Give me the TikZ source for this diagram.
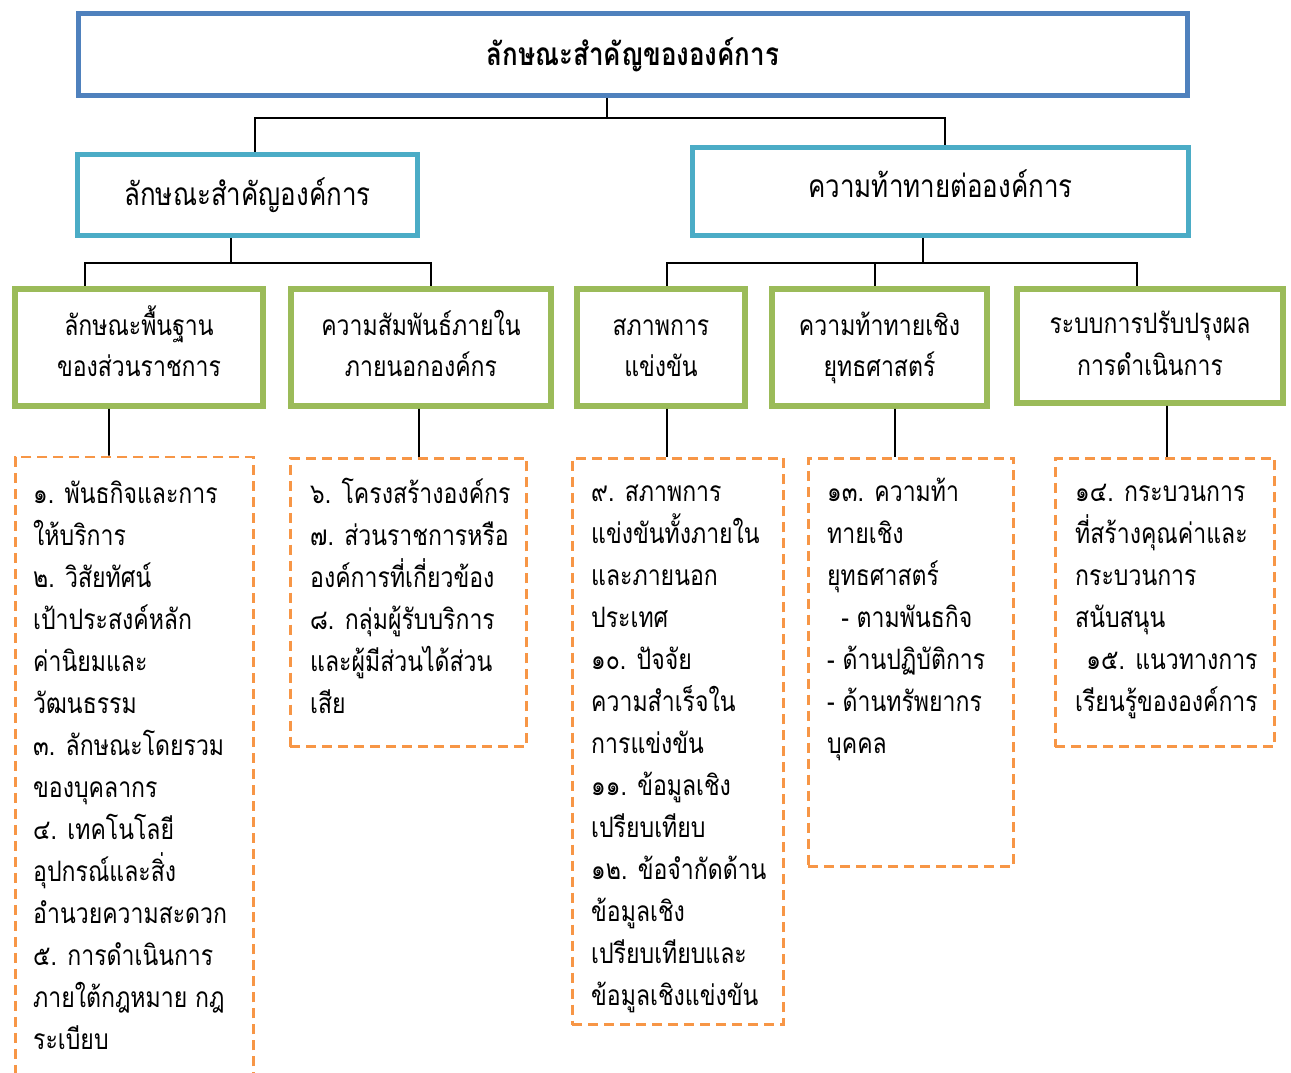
\documentclass[tikz,border=0pt]{standalone}
\usepackage{fontspec}
\newfontfamily\thai[Script=Thai,FakeStretch=0.82]{Loma}
\usetikzlibrary{positioning,calc}
\definecolor{topblue}{HTML}{4F81BD}
\definecolor{secblue}{HTML}{4BACC6}
\definecolor{grpgreen}{HTML}{9BBB59}
\definecolor{listorange}{HTML}{F79646}

\begin{document}
\begin{tikzpicture}[x=0.02cm,y=-0.02cm,
  topbox/.style={draw=topblue,line width=2.8pt,minimum width=22.2cm,minimum height=1.64cm,
    font=\thai\bfseries\fontsize{18}{21}\selectfont},
  secbox/.style={draw=secblue,line width=2.8pt,font=\thai\fontsize{18}{22}\selectfont},
  grpbox/.style={draw=grpgreen,line width=3.2pt,
    font=\thai\fontsize{16}{23.6}\selectfont},
  listbox/.style={draw=listorange,line width=1.6pt,dash pattern=on 0.2cm off 0.12cm},
  listtext/.style={anchor=north west,inner sep=0pt,align=left,
    font=\thai\fontsize{16}{23.9}\selectfont},
  link/.style={line width=0.9pt}]
  \useasboundingbox (0,0) rectangle (1291,1072);

  % top and second level
  \node[topbox] (top) at (633,54.5) {ลักษณะสำคัญขององค์การ};
  \node[secbox,minimum width=6.8cm,minimum height=1.62cm] (feat) at (247.5,195) {ลักษณะสำคัญองค์การ};
  \node[secbox,minimum width=9.92cm,minimum height=1.76cm] (chal) at (940.5,191.5)
    {\begin{tabular}{@{}c@{}}ความท้าทายต่อองค์การ\\[0.1cm]\end{tabular}};

  % third level
  \node[grpbox,minimum width=4.96cm,minimum height=2.34cm] (basic) at (139,347.5)
    {\begin{tabular}{@{}c@{}}ลักษณะพื้นฐาน\\ของส่วนราชการ\end{tabular}};
  \node[grpbox,minimum width=5.2cm,minimum height=2.34cm] (rel) at (421,347.5)
    {\begin{tabular}{@{}c@{}}ความสัมพันธ์ภายใน\\ภายนอกองค์กร\end{tabular}};
  \node[grpbox,minimum width=3.36cm,minimum height=2.34cm] (comp) at (661,347.5)
    {\begin{tabular}{@{}c@{}}สภาพการ\\แข่งขัน\end{tabular}};
  \node[grpbox,minimum width=4.3cm,minimum height=2.34cm] (strat) at (879.5,347.5)
    {\begin{tabular}{@{}c@{}}ความท้าทายเชิง\\ยุทธศาสตร์\end{tabular}};
  \node[grpbox,minimum width=5.32cm,minimum height=2.28cm] (impr) at (1150,346)
    {\begin{tabular}{@{}c@{}}ระบบการปรับปรุงผล\\การดำเนินการ\end{tabular}};

  % dashed lists
  \node[listbox,minimum width=4.77cm,minimum height=12.86cm] (d1) at (134.5,778.5) {};
  \node[listbox,minimum width=4.73cm,minimum height=5.77cm] (d2) at (408.5,602.5) {};
  \node[listbox,minimum width=4.23cm,minimum height=11.33cm] (d3) at (678,741.5) {};
  \node[listbox,minimum width=4.11cm,minimum height=8.17cm] (d4) at (911,662.5) {};
  \node[listbox,minimum width=4.39cm,minimum height=5.77cm] (d5) at (1165,602.5) {};

  \node[listtext] (t1) at ($(d1.north west)+(19,25)$) {%
    ๑. พันธกิจและการ\\ให้บริการ\\๒. วิสัยทัศน์\\เป้าประสงค์หลัก\\ค่านิยมและ\\วัฒนธรรม\\%
    ๓. ลักษณะโดยรวม\\ของบุคลากร\\๔. เทคโนโลยี\\อุปกรณ์และสิ่ง\\อำนวยความสะดวก\\%
    ๕. การดำเนินการ\\ภายใต้กฎหมาย กฎ\\ระเบียบ};
  \node[listtext] (t2) at ($(d2.north west)+(21,21)$) {%
    ๖. โครงสร้างองค์กร\\๗. ส่วนราชการหรือ\\องค์การที่เกี่ยวข้อง\\๘. กลุ่มผู้รับบริการ\\%
    และผู้มีส่วนได้ส่วน\\เสีย};
  \node[listtext] (t3) at ($(d3.north west)+(20,28)$) {%
    ๙. สภาพการ\\แข่งขันทั้งภายใน\\และภายนอก\\ประเทศ\\๑๐. ปัจจัย\\ความสำเร็จใน\\%
    การแข่งขัน\\๑๑. ข้อมูลเชิง\\เปรียบเทียบ\\๑๒. ข้อจำกัดด้าน\\ข้อมูลเชิง\\%
    เปรียบเทียบและ\\ข้อมูลเชิงแข่งขัน};
  \node[listtext] (t4) at ($(d4.north west)+(20,21)$) {%
    ๑๓. ความท้า\\ทายเชิง\\ยุทธศาสตร์\\\hspace*{0.5em}- ตามพันธกิจ\\- ด้านปฏิบัติการ\\%
    - ด้านทรัพยากร\\บุคคล};
  \node[listtext] (t5) at ($(d5.north west)+(21,27)$) {%
    ๑๔. กระบวนการ\\ที่สร้างคุณค่าและ\\กระบวนการ\\สนับสนุน\\\hspace*{0.4em}๑๕. แนวทางการ\\%
    เรียนรู้ขององค์การ};

  % connectors
  \draw[link] ([xshift=-0.52cm]top.south) -- ++(0,20) coordinate (hub1);
  \draw[link] (hub1) -| ([xshift=0.15cm]feat.north);
  \draw[link] (hub1) -| ([xshift=0.09cm]chal.north);

  \draw[link] ([xshift=-0.33cm]feat.south) -- ++(0,25) coordinate (hub2);
  \draw[link] (hub2) -| ([xshift=-1.08cm]basic.north);
  \draw[link] (hub2) -| ([xshift=0.2cm]rel.north);

  \draw[link] ([xshift=-0.35cm]chal.south) -- ++(0,25) coordinate (hub3);
  \draw[link] (hub3) -| ([xshift=0.12cm]comp.north);
  \draw[link] (hub3) -| ([xshift=-0.09cm]strat.north);
  \draw[link] (hub3) -| ([xshift=-0.26cm]impr.north);

  \draw[link] ([xshift=-0.6cm]basic.south) -- ([xshift=-0.51cm]d1.north);
  \draw[link] ([xshift=-0.04cm]rel.south) -- ([xshift=0.21cm]d2.north);
  \draw[link] ([xshift=0.12cm]comp.south) -- ([xshift=-0.22cm]d3.north);
  \draw[link] ([xshift=0.31cm]strat.south) -- ([xshift=-0.32cm]d4.north);
  \draw[link] ([xshift=0.34cm]impr.south) -- ([xshift=0.04cm]d5.north);
\end{tikzpicture}
\end{document}
